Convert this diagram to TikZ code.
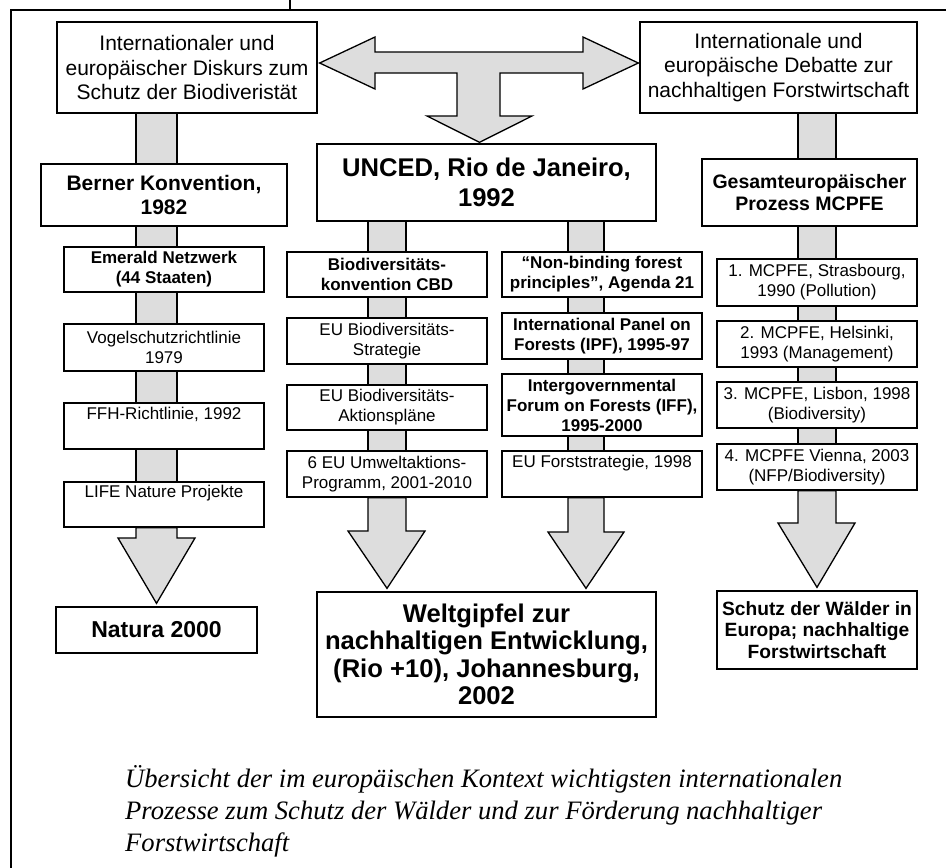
\documentclass[tikz,border=0pt]{standalone}
\usepackage{fontspec}
\setmainfont{Liberation Sans}
\newfontfamily\capfont{Liberation Serif}
\usetikzlibrary{calc}
\definecolor{arrgray}{RGB}{221,221,221}
\tikzset{
  box/.style={draw, line width=1.3pt, fill=white, inner sep=0pt, align=center},
  reg/.style={font=\fontsize{17}{20}\selectfont},
  bld/.style={font=\fontsize{17}{20}\selectfont\bfseries},
  stemst/.style={draw, fill=arrgray, line width=1.3pt},
  arrst/.style={draw, fill=arrgray, line width=1.3pt, line join=miter},
}
\newcommand\stemlink[4]{\draw[stemst] let \p1=(#1.south), \p2=(#2.north) in (#3,\y1) rectangle (#4,\y2);}
\newcommand\bigarrow[8]{\draw[arrst] let \p1=(#1.south), \p2=(#2.north) in (#3,\y1) -- (#3,#5) -- (#6,#5) -- (#8,{\y2+3pt}) -- (#7,#5) -- (#4,#5) -- (#4,\y1) -- cycle;}
\begin{document}
\begin{tikzpicture}[x=1pt,y=-1pt]
\useasboundingbox (0,0) rectangle (946,868);
% frame
\draw[line width=1.8pt] (11,868) -- (11,10) -- (946,10);
\draw[line width=1.8pt] (290,0) -- (290,10);

% top boxes
\node[box, minimum width=260, minimum height=91, font=\fontsize{21}{24.5}\selectfont] (tl) at (187,67.5)
  {Internationaler und\\europäischer Diskurs zum\\Schutz der Biodiveristät};
\node[box, minimum width=277, minimum height=91, font=\fontsize{21}{24.5}\selectfont] (tr) at (778.5,67.5)
  {Internationale und\\europäische Debatte zur\\nachhaltigen Forstwirtschaft};

% left column
\node[box, minimum width=246, minimum height=62, font=\fontsize{21}{24}\selectfont\bfseries] (berner) at (164,195)
  {Berner Konvention,\\1982};
\node[box, bld, minimum width=200, minimum height=45] (emerald) at (164,269.5) {Emerald Netzwerk\\(44 Staaten)};
\node[box, reg, minimum width=200, minimum height=47] (vogel) at (164,347.5) {Vogelschutzrichtlinie\\1979};
\node[box, reg, minimum width=200, minimum height=46] (ffh) at (164,426) {FFH-Richtlinie, 1992\\\strut};
\node[box, reg, minimum width=200, minimum height=45] (life) at (164,504.5) {LIFE Nature Projekte\\\strut};
\node[box, minimum width=201, minimum height=46, font=\fontsize{23}{27}\selectfont\bfseries] (natura) at (156.5,630) {Natura 2000};

% middle
\node[box, minimum width=339, minimum height=77, font=\fontsize{25.6}{30}\selectfont\bfseries] (unced) at (486.5,182.5)
  {UNCED, Rio de Janeiro,\\1992};
\node[box, bld, minimum width=200, minimum height=45] (biodiv) at (387,274.5) {Biodiversitäts-\\konvention CBD};
\node[box, reg, minimum width=200, minimum height=46] (eustrat) at (387,341) {EU Biodiversitäts-\\Strategie};
\node[box, reg, minimum width=200, minimum height=45] (euakt) at (387,407.5) {EU Biodiversitäts-\\Aktionspläne};
\node[box, reg, minimum width=200, minimum height=46] (eusix) at (387,474) {6 EU Umweltaktions-\\Programm, 2001-2010};

\node[box, bld, minimum width=200, minimum height=45] (nonbind) at (602,274.5) {“Non-binding forest\\principles”, Agenda 21};
\node[box, bld, minimum width=200, minimum height=46] (ipf) at (602,336) {International Panel on\\Forests (IPF), 1995-97};
\node[box, bld, minimum width=200, minimum height=62] (iff) at (602,405) {Intergovernmental\\Forum on Forests (IFF),\\1995-2000};
\node[box, reg, minimum width=200, minimum height=46] (euforst) at (602,474) {EU Forststrategie, 1998\\\strut};

\node[box, minimum width=339, minimum height=125, font=\fontsize{25.6}{27.5}\selectfont\bfseries] (welt) at (486.5,654.5)
  {Weltgipfel zur\\nachhaltigen Entwicklung,\\(Rio +10), Johannesburg,\\2002};

% right column
\node[box, minimum width=215, minimum height=67, font=\fontsize{19.5}{22}\selectfont\bfseries] (gesamt) at (809.5,192.5)
  {Gesamteuropäischer\\Prozess MCPFE};
\node[box, reg, minimum width=200, minimum height=47] (mca) at (817,282.5) {1. MCPFE, Strasbourg,\\1990 (Pollution)};
\node[box, reg, minimum width=200, minimum height=46] (mcb) at (817,344) {2. MCPFE, Helsinki,\\1993 (Management)};
\node[box, reg, minimum width=200, minimum height=46] (mcc) at (817,405) {3. MCPFE, Lisbon, 1998\\(Biodiversity)};
\node[box, reg, minimum width=200, minimum height=46] (mcd) at (817,467) {4. MCPFE Vienna, 2003\\(NFP/Biodiversity)};
\node[box, minimum width=200, minimum height=78, font=\fontsize{19.2}{21.7}\selectfont\bfseries] (schutz) at (817,630)
  {Schutz der Wälder in\\Europa; nachhaltige\\Forstwirtschaft};

% stems
\stemlink{tl}{berner}{136}{177}
\stemlink{berner}{emerald}{136}{177}
\stemlink{emerald}{vogel}{136}{177}
\stemlink{vogel}{ffh}{136}{177}
\stemlink{ffh}{life}{136}{177}
\stemlink{unced}{biodiv}{368}{406}
\stemlink{biodiv}{eustrat}{368}{406}
\stemlink{eustrat}{euakt}{368}{406}
\stemlink{euakt}{eusix}{368}{406}
\stemlink{unced}{nonbind}{568}{604}
\stemlink{nonbind}{ipf}{568}{604}
\stemlink{ipf}{iff}{568}{604}
\stemlink{iff}{euforst}{568}{604}
\stemlink{tr}{gesamt}{798}{836}
\stemlink{gesamt}{mca}{798}{836}
\stemlink{mca}{mcb}{798}{836}
\stemlink{mcb}{mcc}{798}{836}
\stemlink{mcc}{mcd}{798}{836}

% big arrows
\bigarrow{life}{natura}{136}{177}{538}{118}{195}{156.5}
\bigarrow{eusix}{welt}{368}{406}{531}{348}{425}{387}
\bigarrow{euforst}{welt}{568}{604}{532}{548}{624}{586}
\bigarrow{mcd}{schutz}{798}{836}{523}{778}{855}{817}

% T-shaped arrow
\draw[arrst] let \p1=(tl.east), \p2=(tr.west), \p3=(unced.north) in
  ({\x1+2pt},63) -- (375,37) -- (375,52) -- (583,52) -- (583,37) -- ({\x2-1pt},63)
  -- (583,89) -- (583,73) -- (500,73) -- (500,116) -- (532,116) -- (479.5,{\y3+1pt})
  -- (427,116) -- (457,116) -- (457,73) -- (375,73) -- (375,89) -- cycle;

% caption
\node[anchor=north west, align=left, inner sep=0pt, font=\capfont\itshape\fontsize{26.6}{32}\selectfont] (cap) at (125,765)
  {Übersicht der im europäischen Kontext wichtigsten internationalen\\Prozesse zum Schutz der Wälder und zur Förderung nachhaltiger\\Forstwirtschaft};
\end{tikzpicture}
\end{document}
